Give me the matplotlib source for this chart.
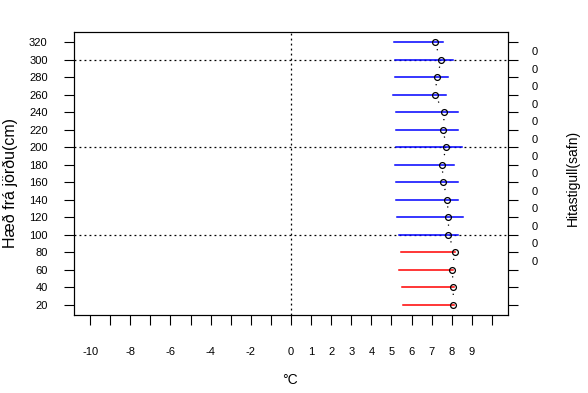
import matplotlib
matplotlib.use('Agg')
import matplotlib.pyplot as plt
import numpy as np

plt.rcParams['font.family'] = ['Liberation Sans', 'DejaVu Sans']

# heights (cm) and temperature stats per height
heights = [320, 300, 280, 260, 240, 220, 200, 180, 160, 140, 120, 100, 80, 60, 40, 20]
means = [7.15, 7.47, 7.28, 7.15, 7.63, 7.58, 7.72, 7.52, 7.58, 7.78, 7.83, 7.83, 8.15, 8.02, 8.08, 8.07]
mins = [5.12, 5.2, 5.17, 5.07, 5.25, 5.25, 5.25, 5.17, 5.25, 5.25, 5.3, 5.38, 5.45, 5.37, 5.5, 5.57]
maxs = [7.57, 8.05, 7.82, 7.73, 8.32, 8.32, 8.5, 8.12, 8.32, 8.32, 8.55, 8.33, 8.17, 8.04, 8.1, 8.09]
colors = ['blue'] * 12 + ['red'] * 4

# gradient labels between consecutive heights
grad_pos = [310, 290, 270, 250, 230, 210, 190, 170, 150, 130, 110, 90, 70]
grad_vals = [0] * 13

xticks = list(range(-10, 11))
xlabels = ['-10', '', '-8', '', '-6', '', '-4', '', '-2', '', '0',
           '1', '2', '3', '4', '5', '6', '7', '8', '9', '']
yticks = list(range(20, 321, 20))

fig = plt.figure(figsize=(5.88, 3.93), dpi=100)
ax = fig.add_axes([74/588, 1-315/393, 434/588, 283/393])

ax.set_xlim(-10.8, 10.8)
ax.set_ylim(8, 332)

# reference lines
for h in [100, 200, 300]:
    ax.axhline(h, color='black', ls=(0, (1.5, 2.5)), lw=0.9, zorder=1)
ax.axvline(0, color='black', ls=(0, (1.5, 2.5)), lw=0.9, zorder=1)

# min-max ranges
for h, lo, hi, c in zip(heights, mins, maxs, colors):
    ax.plot([lo, hi], [h, h], color=c, lw=1.1, zorder=2)

# dotted connector between means (gaps near points)
for i in range(len(heights) - 1):
    x0, x1 = means[i], means[i + 1]
    y0, y1 = heights[i], heights[i + 1]
    f = 0.38
    ax.plot([x0 + f*(x1-x0), x1 - f*(x1-x0)], [y0 + f*(y1-y0), y1 - f*(y1-y0)],
            color='black', ls=(0, (1, 3)), lw=0.9, zorder=2)

ax.plot(means, heights, 'o', mfc='none', mec='black', ms=4.2, mew=0.9, ls='none', zorder=3)

ax.set_xticks(xticks)
ax.set_xticklabels(xlabels)
ax.set_yticks(yticks)
ax.tick_params(axis='x', length=7, width=0.8, pad=16, labelsize=8)
ax.tick_params(axis='y', length=7, width=0.8, pad=12, labelsize=8)
for s in ax.spines.values():
    s.set_linewidth(0.8)

ax2 = ax.twinx()
ax2.set_ylim(ax.get_ylim())
ax2.set_yticks(yticks)
ax2.set_yticklabels([])
ax2.set_yticks(grad_pos, minor=True)
ax2.set_yticklabels([str(v) for v in grad_vals], minor=True)
ax2.tick_params(axis='y', which='major', length=7, width=0.8)
ax2.tick_params(axis='y', which='minor', length=0, pad=17, labelsize=8)
for s in ax2.spines.values():
    s.set_linewidth(0.8)

fig.text(10/588, 1-183/393, 'Hæð frá jörðu(cm)', rotation=90, ha='center', va='center', fontsize=11.5)
fig.text(573/588, 1-178/393, 'Hitastigull(safn)', rotation=90, ha='center', va='center', fontsize=10)
fig.text(290/588, 1-380/393, '°C', ha='center', va='center', fontsize=10)

fig.savefig('out.png', dpi=100)
